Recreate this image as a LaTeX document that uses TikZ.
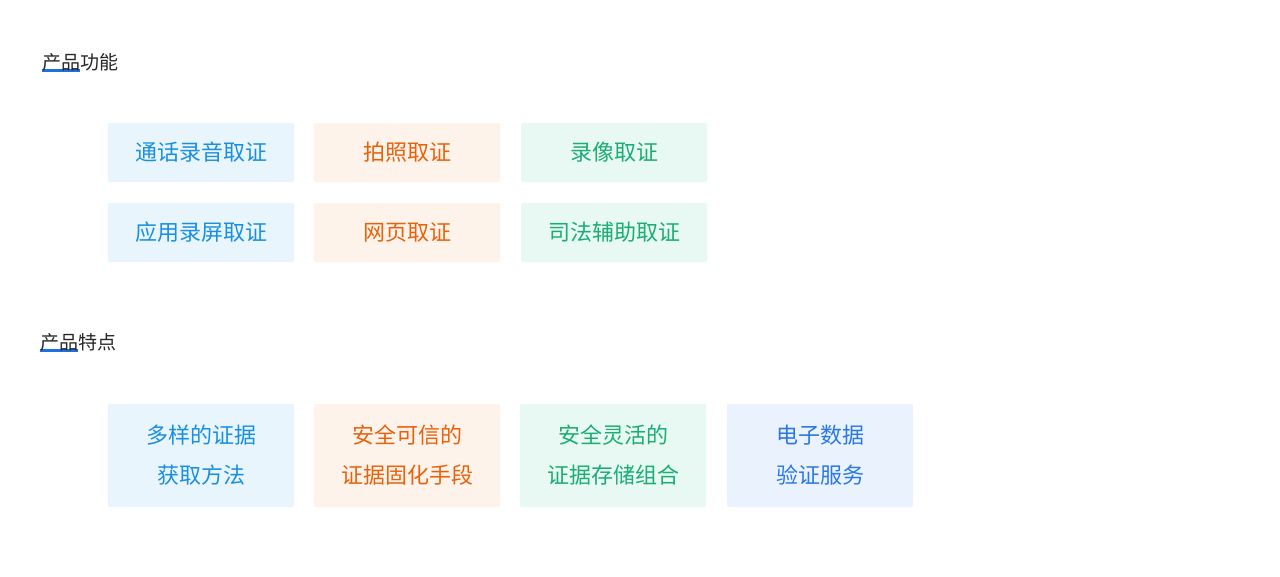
\documentclass[tikz,border=0pt]{standalone}
\usepackage{fontspec}
\newfontfamily\cjk{Noto Sans CJK SC}
\definecolor{tb}{HTML}{1A8FE0}\definecolor{bb}{HTML}{E8F5FD}
\definecolor{to}{HTML}{E8620C}\definecolor{bo}{HTML}{FEF3EA}
\definecolor{tg}{HTML}{1AAD75}\definecolor{bg}{HTML}{E8F8F2}
\definecolor{tv}{HTML}{2A78E4}\definecolor{bv}{HTML}{EAF2FE}
\definecolor{ul}{HTML}{1E6FE0}
\tikzset{
 card/.style={rounded corners=2pt,minimum width=186pt,inner sep=0pt,align=center,font=\cjk\fontsize{22}{40}\selectfont},
 sbox/.style={card,minimum height=59pt},
 tbox/.style={card,minimum height=103pt},
 head/.style={anchor=west,inner sep=0pt,font=\cjk\fontsize{19}{22}\selectfont,text=black!85}
}
\begin{document}
\begin{tikzpicture}[x=1pt,y=1pt]
\useasboundingbox[fill=white] (0,0) rectangle (1280,-576);
\fill[ul] (42,-69) rectangle (80,-71.5);
\node[head] (h1) at (42,-62) {产品功能};
\fill[ul] (40,-349) rectangle (78,-351.5);
\node[head] (h2) at (40,-342) {产品特点};
\node[sbox,fill=bb,text=tb] (a1) at (201,-152.5) {通话录音取证};
\node[sbox,fill=bo,text=to] (a2) at (407,-152.5) {拍照取证};
\node[sbox,fill=bg,text=tg] (a3) at (614,-152.5) {录像取证};
\node[sbox,fill=bb,text=tb] (b1) at (201,-232.5) {应用录屏取证};
\node[sbox,fill=bo,text=to] (b2) at (407,-232.5) {网页取证};
\node[sbox,fill=bg,text=tg] (b3) at (614,-232.5) {司法辅助取证};
\node[tbox,fill=bb,text=tb] (c1) at (201,-455.5) {多样的证据\\获取方法};
\node[tbox,fill=bo,text=to] (c2) at (407,-455.5) {安全可信的\\证据固化手段};
\node[tbox,fill=bg,text=tg] (c3) at (613,-455.5) {安全灵活的\\证据存储组合};
\node[tbox,fill=bv,text=tv] (c4) at (820,-455.5) {电子数据\\验证服务};
\end{tikzpicture}
\end{document}
